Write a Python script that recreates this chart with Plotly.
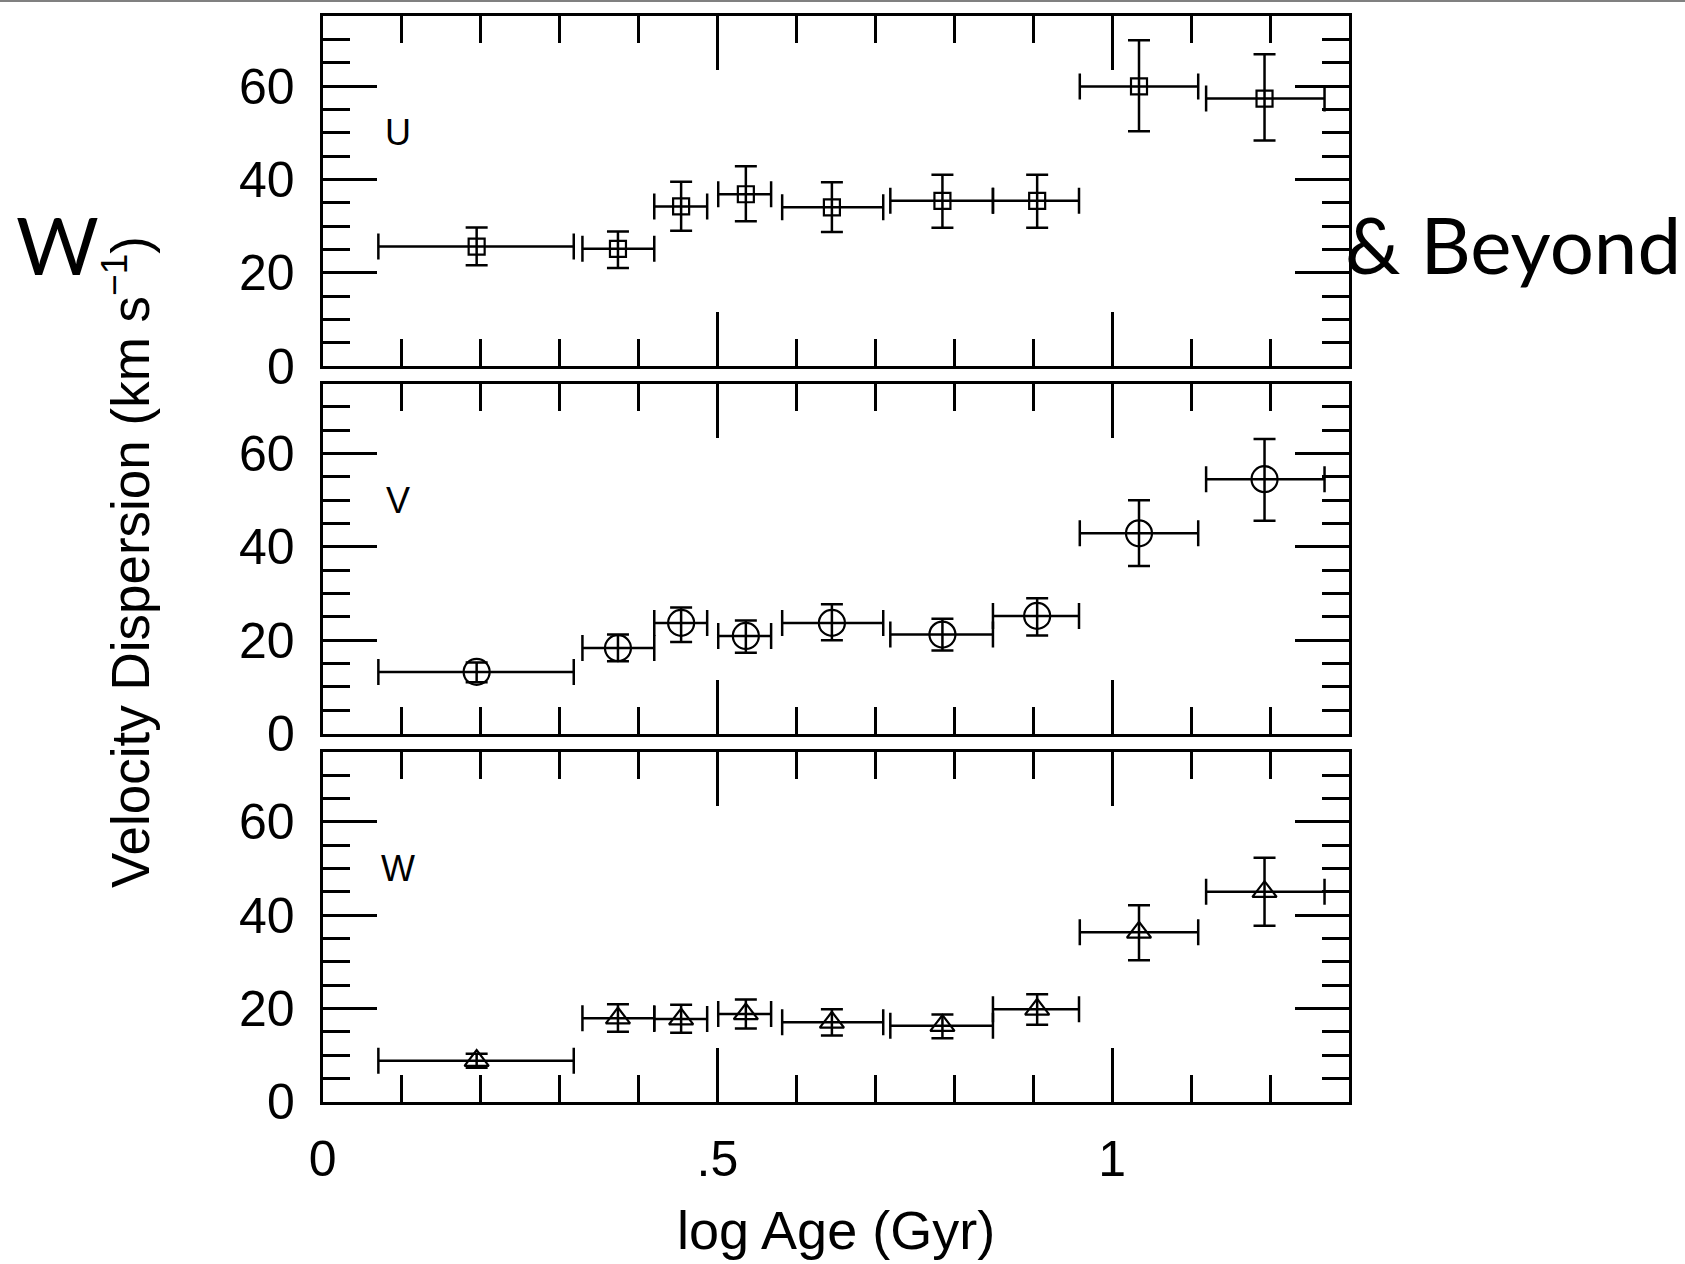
import plotly.graph_objects as go

# Age bins (log Age in Gyr): bin centres and bin edges
log_age = [0.195, 0.374, 0.454, 0.536, 0.645, 0.785, 0.905, 1.034, 1.193]
age_lo = [0.0705, 0.329, 0.420, 0.501, 0.582, 0.719, 0.849, 0.959, 1.119]
age_hi = [0.318, 0.420, 0.487, 0.568, 0.710, 0.849, 0.958, 1.109, 1.269]

# Velocity dispersions (km/s) with upper / lower error limits
sigma_u = [25.6, 25.1, 34.2, 36.8, 34.0, 35.4, 35.4, 59.9, 57.3]
sigma_u_hi = [29.7, 28.8, 39.5, 42.8, 39.4, 41.0, 41.0, 69.8, 66.8]
sigma_u_lo = [21.6, 21.0, 29.0, 31.0, 28.7, 29.6, 29.6, 50.3, 48.3]

sigma_v = [13.2, 18.3, 23.7, 20.9, 23.7, 21.2, 25.2, 42.9, 54.5]
sigma_v_hi = [15.2, 21.2, 27.0, 24.2, 27.7, 24.6, 29.0, 50.0, 63.1]
sigma_v_lo = [11.0, 15.5, 19.6, 17.3, 20.0, 17.8, 21.0, 35.9, 45.6]

sigma_w = [8.8, 17.9, 17.7, 18.8, 17.0, 16.3, 19.8, 36.3, 45.0]
sigma_w_hi = [10.3, 20.9, 20.8, 21.9, 19.8, 18.7, 23.0, 42.1, 52.3]
sigma_w_lo = [7.3, 15.0, 14.8, 15.7, 14.2, 13.6, 16.5, 30.3, 37.7]

components = ["U", "V", "W"]
x_ticks = [0, 0.5, 1.0]
x_tick_text = ["0", ".5", "1"]
y_ticks = [0, 20, 40, 60]

W_PX, H_PX = 1685, 1264
FONT = "Liberation Sans, Arial, Helvetica, sans-serif"

# panel geometry in pixels (left, right, top, bottom)
left_px, right_px = 322.7, 1349.0
panel_rows = [(16.0, 366.0), (383.5, 733.5), (751.7, 1101.7)]

series = [
    (sigma_u, sigma_u_hi, sigma_u_lo, "square-open", 16),
    (sigma_v, sigma_v_hi, sigma_v_lo, "circle-open", 26),
    (sigma_w, sigma_w_hi, sigma_w_lo, "triangle-up-open", 21),
]

fig = go.Figure()

x_plus = [h - c for h, c in zip(age_hi, log_age)]
x_minus = [c - l for c, l in zip(log_age, age_lo)]

for i, (vals, hi, lo, symbol, size) in enumerate(series):
    suffix = "" if i == 0 else str(i + 1)
    fig.add_trace(go.Scatter(
        x=log_age, y=vals,
        xaxis="x" + suffix, yaxis="y" + suffix,
        mode="markers",
        marker=dict(symbol=symbol, size=size, color="black",
                    line=dict(color="black", width=2.2)),
        error_x=dict(type="data", symmetric=False, array=x_plus, arrayminus=x_minus,
                     color="black", thickness=2.5, width=13),
        error_y=dict(type="data", symmetric=False,
                     array=[h - v for h, v in zip(hi, vals)],
                     arrayminus=[v - l for v, l in zip(vals, lo)],
                     color="black", thickness=2.5, width=11),
        showlegend=False, hoverinfo="skip",
    ))

layout = dict(
    width=W_PX, height=H_PX,
    margin=dict(l=0, r=0, t=0, b=0, autoexpand=False),
    paper_bgcolor="white", plot_bgcolor="white",
    font=dict(family=FONT, color="black"),
    showlegend=False,
)

x_dom = [left_px / W_PX, right_px / W_PX]
for i, (top, bot) in enumerate(panel_rows):
    suffix = "" if i == 0 else str(i + 1)
    last = i == len(panel_rows) - 1
    layout["xaxis" + suffix] = dict(
        domain=x_dom, anchor="y" + suffix, range=[0, 1.3],
        tickmode="array", tickvals=x_ticks, ticktext=x_tick_text,
        ticks="inside", ticklen=54, tickwidth=2.5, tickcolor="black",
        minor=dict(tickmode="linear", tick0=0, dtick=0.1, ticks="inside",
                   ticklen=27, tickwidth=2.5, tickcolor="black"),
        showticklabels=last, ticklabelstandoff=11,
        tickfont=dict(size=50, family=FONT, color="black"),
        showline=True, linewidth=3, linecolor="black", mirror="ticks",
        showgrid=False, zeroline=False, fixedrange=True, automargin=False,
    )
    layout["yaxis" + suffix] = dict(
        domain=[1 - bot / H_PX, 1 - top / H_PX], anchor="x" + suffix, range=[0, 75],
        tickmode="array", tickvals=y_ticks,
        ticks="inside", ticklen=54, tickwidth=2.5, tickcolor="black",
        minor=dict(tickmode="linear", tick0=0, dtick=5, ticks="inside",
                   ticklen=27, tickwidth=2.5, tickcolor="black"),
        ticklabelstandoff=15,
        tickfont=dict(size=50, family=FONT, color="black"),
        showline=True, linewidth=3, linecolor="black", mirror="ticks",
        showgrid=False, zeroline=False, fixedrange=True, automargin=False,
    )

fig.update_layout(**layout)

annotations = []
# component labels inside each panel
for i, name in enumerate(components):
    suffix = "" if i == 0 else str(i + 1)
    annotations.append(dict(
        x=0.095, y=50, xref="x" + suffix, yref="y" + suffix,
        text=name, showarrow=False, xanchor="center", yanchor="middle",
        font=dict(size=36, family=FONT, color="black"),
    ))

# axis titles
annotations.append(dict(
    x=127 / W_PX, y=1 - 562 / H_PX, xref="paper", yref="paper",
    text="Velocity Dispersion (km s<sup>\u22121</sup>)", textangle=-90,
    showarrow=False, xanchor="center", yanchor="middle",
    font=dict(size=53, family=FONT, color="black"),
))
annotations.append(dict(
    x=836 / W_PX, y=1 - 1230 / H_PX, xref="paper", yref="paper",
    text="log Age (Gyr)", showarrow=False, xanchor="center", yanchor="middle",
    font=dict(size=54, family=FONT, color="black"),
))

# slide heading around the chart
annotations.append(dict(
    x=14 / W_PX, y=1 - 244 / H_PX, xref="paper", yref="paper",
    text="W", showarrow=False, xanchor="left", yanchor="middle",
    font=dict(size=80, family="Lato, sans-serif", color="black"),
))
annotations.append(dict(
    x=1343 / W_PX, y=1 - 244 / H_PX, xref="paper", yref="paper",
    text="&amp; Beyond", showarrow=False, xanchor="left", yanchor="middle",
    font=dict(size=78, family="Lato, sans-serif", color="black"),
))

fig.update_layout(annotations=annotations)

# thin grey rule along the top edge of the slide
fig.add_shape(type="line", xref="paper", yref="paper",
              x0=0, x1=1, y0=1 - 1 / H_PX, y1=1 - 1 / H_PX,
              line=dict(color="#808080", width=2))

fig.write_html("out.html")
